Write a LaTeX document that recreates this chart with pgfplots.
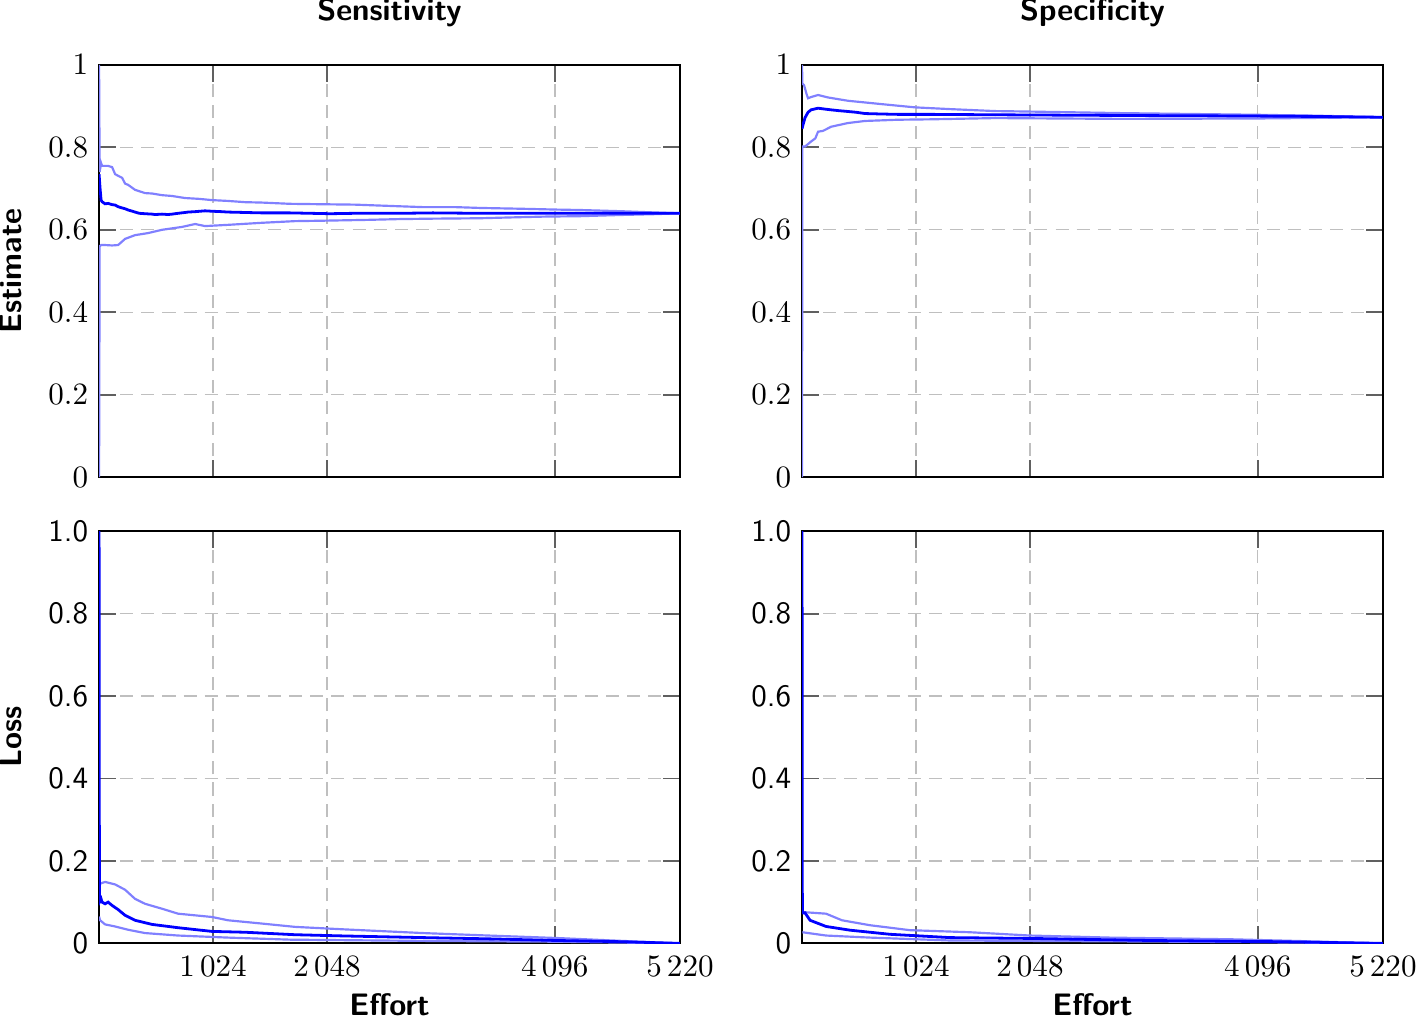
\documentclass[border=0pt]{standalone}
\usepackage{pgfplots}
\pgfplotsset{compat=1.18}
\usepgfplotslibrary{groupplots}
\usetikzlibrary{calc}
\usepackage{pgfplotstable}

% Sensitivity estimate
\pgfplotstableread{
x y
0 0.735
9 0.700
18 0.672
27 0.668
54 0.663
81 0.664
117 0.661
144 0.660
171 0.656
207 0.653
234 0.651
261 0.648
300 0.645
323 0.643
360 0.640
413 0.639
476 0.638
503 0.637
566 0.638
620 0.637
656 0.638
710 0.640
773 0.642
800 0.643
863 0.644
952 0.646
1015 0.645
1100 0.644
1159 0.643
1312 0.642
1465 0.641
1716 0.641
1900 0.640
2076 0.639
2300 0.640
2704 0.640
3000 0.641
3423 0.640
3800 0.640
4322 0.640
4800 0.640
5220 0.640
}\senest
\pgfplotstableread{
x y
0 1.0
5 0.740
18 0.762
27 0.755
54 0.755
81 0.755
117 0.752
144 0.735
171 0.731
207 0.726
234 0.712
261 0.709
323 0.697
413 0.689
476 0.688
566 0.684
656 0.682
773 0.677
900 0.675
1015 0.672
1159 0.670
1312 0.667
1465 0.666
1716 0.663
2000 0.662
2300 0.661
2704 0.657
2911 0.655
3200 0.655
3423 0.653
3800 0.651
4115 0.649
4322 0.648
4700 0.645
5000 0.642
5220 0.640
}\senup
\pgfplotstableread{
x y
0 0.0
5 0.560
18 0.563
54 0.563
117 0.562
171 0.563
234 0.578
323 0.587
440 0.592
566 0.600
746 0.607
863 0.614
952 0.609
1159 0.612
1465 0.617
1761 0.621
2000 0.622
2400 0.624
2704 0.626
3000 0.627
3423 0.628
3700 0.630
4000 0.632
4322 0.633
4700 0.636
5000 0.638
5220 0.640
}\senlo
% Specificity
\pgfplotstableread{
x y
0 0.845
9 0.855
27 0.872
54 0.885
81 0.891
144 0.895
200 0.893
261 0.891
330 0.889
413 0.887
490 0.885
566 0.882
700 0.881
863 0.880
1159 0.880
1734 0.879
2400 0.878
3127 0.877
4000 0.876
4600 0.875
5220 0.873
}\spest
\pgfplotstableread{
x y
0 1.0
3 0.955
18 0.951
40 0.930
54 0.919
81 0.922
144 0.927
234 0.921
413 0.913
710 0.905
1015 0.897
1312 0.893
1734 0.888
2000 0.887
2884 0.883
4088 0.879
4600 0.877
5220 0.873
}\spup
\pgfplotstableread{
x y
0 0.0
3 0.802
27 0.802
81 0.814
120 0.822
144 0.838
189 0.840
261 0.850
413 0.859
566 0.864
863 0.867
1159 0.868
1734 0.871
2884 0.869
4088 0.870
5220 0.873
}\splo
% Loss sensitivity
\pgfplotstableread{
x y
0 1.0
3 0.100
18 0.108
27 0.100
54 0.096
81 0.100
117 0.092
171 0.082
234 0.068
323 0.056
476 0.046
710 0.038
1015 0.029
1312 0.027
1761 0.021
2200 0.018
2911 0.014
3500 0.011
4115 0.007
4700 0.004
5220 0.0
}\lsenest
\pgfplotstableread{
x y
0 0.120
9 0.145
54 0.149
144 0.143
234 0.130
323 0.108
413 0.096
566 0.084
710 0.072
863 0.068
1015 0.064
1159 0.056
1465 0.048
1761 0.040
2200 0.034
2911 0.025
3500 0.019
4115 0.013
4700 0.006
5220 0.0
}\lsenup
\pgfplotstableread{
x y
0 0.065
9 0.056
54 0.046
144 0.041
261 0.033
413 0.025
710 0.019
1159 0.014
1716 0.009
2911 0.006
4115 0.004
5220 0.0
}\lsenlo
% Loss specificity
\pgfplotstableread{
x y
0 1.0
3 0.074
27 0.074
72 0.056
216 0.041
431 0.032
791 0.022
1330 0.014
2049 0.012
3127 0.007
4300 0.004
5220 0.0
}\lspest
\pgfplotstableread{
x y
3 0.076
216 0.072
359 0.056
611 0.044
970 0.032
1509 0.027
2049 0.019
2767 0.014
3846 0.010
4564 0.005
5220 0.0
}\lspup
\pgfplotstableread{
x y
3 0.027
216 0.019
611 0.014
1330 0.007
2767 0.005
4000 0.003
5220 0.0
}\lsplo

\pgfplotsset{
  est/.style={blue, line width=0.9pt},
  bnd/.style={blue!50, line width=0.7pt},
}

\begin{document}
\begin{tikzpicture}
\begin{groupplot}[
  group style={group size=2 by 2, horizontal sep=39.3pt, vertical sep=17.4pt},
  width=187pt, height=132.7pt, scale only axis,
  xmin=0, xmax=5220, ymin=0, ymax=1,
  xtick={1024,2048,4096,5220},
  scaled ticks=false,
  /pgf/number format/1000 sep={\,},
  grid=major,
  major grid style={gray!50, dash pattern=on 4.2pt off 2.6pt},
  tick style={gray!75!black, line width=0.6pt},
  major tick length=5.5pt,
  axis line style={line width=0.6pt},
  title style={font=\sffamily\bfseries, yshift=2.6pt},
  label style={font=\sffamily\bfseries},
  ylabel style={xshift=0pt, yshift=1.6pt},
  xlabel style={yshift=1.2pt},
  xticklabel style={yshift=-0.6pt},
  every axis plot/.append style={no markers},
]
\nextgroupplot[title={Sensitivity}, ylabel={Estimate}, xticklabels={},
  ytick={0,0.2,0.4,0.6,0.8,1}]
\coordinate (TL) at (rel axis cs:0,1);
\addplot[bnd] table {\senup};
\addplot[bnd] table {\senlo};
\addplot[est] table {\senest};
\nextgroupplot[title={Specificity}, xticklabels={},
  ytick={0,0.2,0.4,0.6,0.8,1}]
\addplot[bnd] table {\spup};
\addplot[bnd] table {\splo};
\addplot[est] table {\spest};
\nextgroupplot[ylabel={Loss}, xlabel={Effort},
  ytick={0,0.2,0.4,0.6,0.8,1}, yticklabels={0,0.2,0.4,0.6,0.8,1.0},
  yticklabel style={font=\sffamily}]
\addplot[bnd] table {\lsenup};
\addplot[bnd] table {\lsenlo};
\addplot[est] table {\lsenest};
\nextgroupplot[xlabel={Effort},
  ytick={0,0.2,0.4,0.6,0.8,1}, yticklabels={0,0.2,0.4,0.6,0.8,1.0},
  yticklabel style={font=\sffamily}]
\coordinate (BR) at (rel axis cs:1,0);
\addplot[bnd] table {\lspup};
\addplot[bnd] table {\lsplo};
\addplot[est] table {\lspest};
\end{groupplot}
\pgfresetboundingbox
\path[use as bounding box] ($(TL)+(-31.9pt,20.9pt)$) rectangle ($(BR)+(11.3pt,-24.6pt)$);
\end{tikzpicture}
\end{document}
